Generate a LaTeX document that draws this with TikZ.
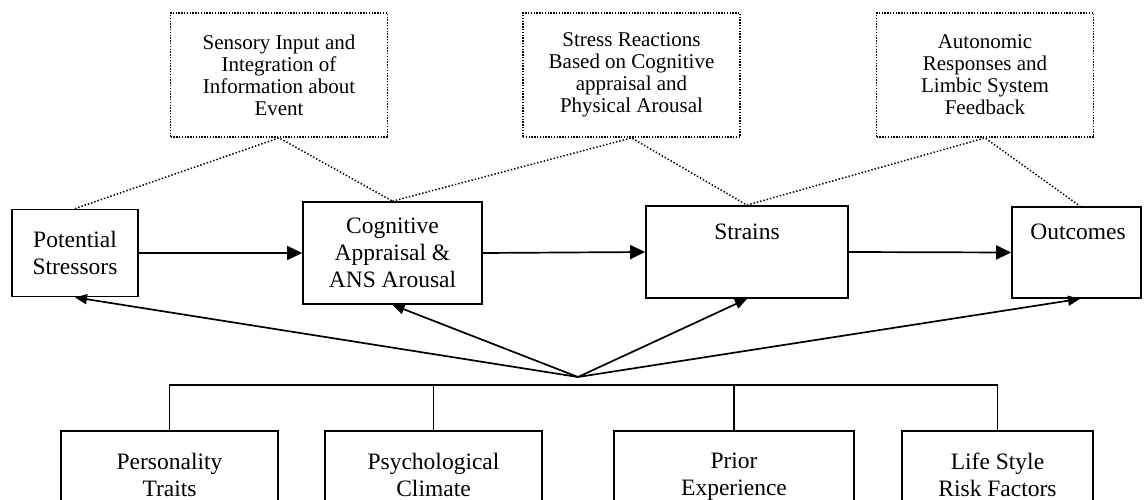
\documentclass[tikz,border=0pt]{standalone}
\usepackage{fontspec}
\setmainfont{Liberation Serif}
\usetikzlibrary{arrows.meta}
\begin{document}
\begin{tikzpicture}[x=1pt,y=-1pt,
  mainbox/.style={draw,line width=1.7pt,inner sep=0pt,align=center,font=\fontsize{23.5}{27}\selectfont},
  notebox/.style={draw,line width=1.8pt,dash pattern=on 1.4pt off 1.4pt,inner sep=0pt,align=center,
    minimum width=217pt,minimum height=124pt,font=\fontsize{21}{22}\selectfont},
  note/.style={line width=1.5pt,dash pattern=on 1.4pt off 2pt},
  flow/.style={line width=1.7pt,-{Triangle[length=15pt,width=14pt]}},
  infl/.style={line width=1.7pt,-{Triangle[length=12pt,width=10pt]}},
  tree/.style={line width=1.7pt},
  lowbox/.style={mainbox,anchor=north,inner ysep=22pt}]
\clip (0,0) rectangle (1144,500);
% top notes
\node[notebox] (t1) at (279,75) {Sensory Input and\\Integration of\\Information about\\Event};
\node[notebox] (t2) at (631.5,75) {Stress Reactions\\Based on Cognitive\\appraisal and\\Physical Arousal};
\node[notebox] (t3) at (985,75) {Autonomic\\Responses and\\Limbic System\\Feedback};
% main chain
\node[mainbox,minimum width=126pt,minimum height=87pt] (ps) at (75,253) {Potential\\Stressors};
\node[mainbox,minimum width=179pt,minimum height=102pt] (ca) at (392.5,253) {Cognitive\\Appraisal \&\\ANS Arousal};
\node[mainbox,minimum width=202pt,text height=34pt,text depth=58pt] (st) at (747,252) {Strains};
\node[mainbox,minimum width=129pt,text height=33pt,text depth=58pt,text width=122pt] (oc) at (1076.5,252.5) {\hspace*{3pt}Outcomes};
% bottom factors
\node[lowbox,minimum width=217pt] (b1) at (169.5,430) {Personality\\Traits};
\node[lowbox,minimum width=217pt] (b2) at (433.5,430) {Psychological\\Climate};
\node[lowbox,minimum width=240pt] (b3) at (734,430) {Prior\\Experience};
\node[lowbox,minimum width=191pt] (b4) at (997.5,430) {Life Style\\Risk Factors};
% note connectors
\draw[note] (ps.north) -- (t1.south) -- (ca.north);
\draw[note] (ca.north) -- (t2.south) -- (st.north);
\draw[note] (st.north) -- (t3.south) -- ([xshift=3.5pt]oc.north);
% flow arrows
\draw[flow] (ps.east) -- (ca.west);
\draw[flow] (ca.east) -- (st.west);
\draw[flow] (st.east) -- (oc.west);
% influences
\coordinate (hub) at (578,377);
\coordinate (bus) at (578,385);
\draw[infl] (hub) -- (ps.south);
\draw[infl] (hub) -- (ca.south);
\draw[infl] (hub) -- (st.south);
\draw[infl] (hub) -- ([xshift=3.5pt]oc.south);
\draw[tree] (b1.north) |- (bus) -| (b4.north);
\draw[tree] (b2.north) -- (b2.north |- bus);
\draw[tree] (b3.north) -- (b3.north |- bus);
\end{tikzpicture}
\end{document}
